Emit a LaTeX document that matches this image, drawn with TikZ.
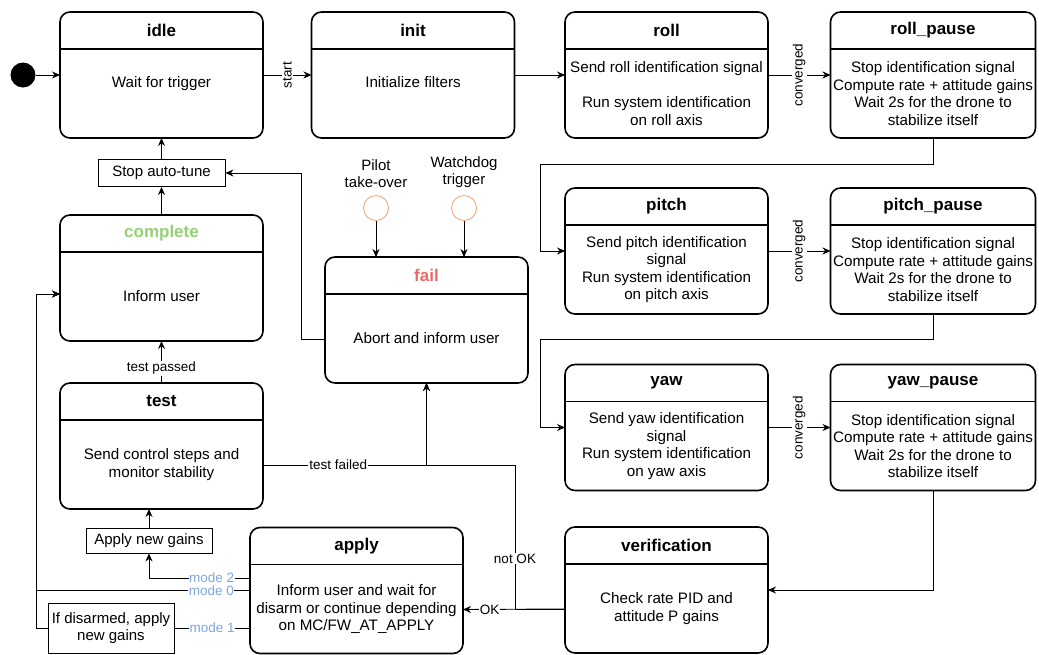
\documentclass[tikz,border=0pt]{standalone}
\usepackage{fontspec}
\setmainfont{Liberation Sans}
\usetikzlibrary{positioning,arrows.meta}
\definecolor{eventorange}{RGB}{244,177,131}
\definecolor{modeblue}{RGB}{126,166,224}
\definecolor{completegreen}{RGB}{151,208,119}
\definecolor{failred}{RGB}{234,107,102}

\begin{document}
\begin{tikzpicture}[x=1pt, y=-1pt,
	state node/.style={draw, fill=white, line width=1.6pt, rounded corners=10pt, minimum width=203pt, minimum height=126pt, inner sep=0pt, outer sep=0pt},
	title node/.style={minimum height=37pt, inner sep=0pt, outer sep=0pt, font=\fontsize{17}{20}\selectfont\bfseries},
	body node/.style={minimum height=89pt, inner sep=0pt, outer sep=0pt, align=center, font=\fontsize{15.2}{17.6}\selectfont},
	header line/.style={line width=1.6pt},
	note node/.style={draw, fill=white, line width=0.9pt, inner sep=0pt, align=center, font=\fontsize{15}{17.6}\selectfont},
	event node/.style={circle, draw=eventorange, line width=1pt, minimum size=25pt, inner sep=0pt},
	link/.style={line width=0.9pt},
	arrow link/.style={link, -{Stealth[length=8pt, width=7pt]}},
	edge label/.style={fill=white, inner sep=1pt, font=\fontsize{13.5}{16}\selectfont},
	mode label/.style={edge label, inner sep=0.5pt, text=modeblue}]

	\useasboundingbox (0,0) rectangle (1039,654);

	\node[circle, fill=black, minimum size=25pt, inner sep=0pt] (start dot) at (23,75) {};

	\node[state node] (idle) at (161.5,75) {};
	\node[title node, below=0pt of idle.north] (idle title) {idle};
	\node[body node, below=0pt of idle title] (idle body) {Wait for trigger\\\strut};
	\draw[header line] (idle title.south -| idle.west) -- (idle title.south -| idle.east);

	\node[state node] (init) at (413,75) {};
	\node[title node, below=0pt of init.north] (init title) {init};
	\node[body node, below=0pt of init title] (init body) {Initialize filters\\\strut};
	\draw[header line] (init title.south -| init.west) -- (init title.south -| init.east);

	\node[state node] (roll) at (666.5,75) {};
	\node[title node, below=0pt of roll.north] (roll title) {roll};
	\node[body node, below=0pt of roll title] (roll body) {Send roll identification signal\\\strut\\Run system identification\\on roll axis};
	\draw[header line] (roll title.south -| roll.west) -- (roll title.south -| roll.east);

	\node[state node, minimum width=205pt] (rollp) at (933,75) {};
	\node[title node, below=0pt of rollp.north] (rollp title) {roll\_pause};
	\node[body node, below=0pt of rollp title] (rollp body) {Stop identification signal\\Compute rate + attitude gains\\Wait 2s for the drone to\\stabilize itself};
	\draw[header line] (rollp title.south -| rollp.west) -- (rollp title.south -| rollp.east);

	\node[state node] (pitch) at (666.5,251) {};
	\node[title node, below=0pt of pitch.north] (pitch title) {pitch};
	\node[body node, below=0pt of pitch title] (pitch body) {Send pitch identification\\signal\\Run system identification\\on pitch axis};
	\draw[header line] (pitch title.south -| pitch.west) -- (pitch title.south -| pitch.east);

	\node[state node, minimum width=205pt] (pitchp) at (933,251) {};
	\node[title node, below=0pt of pitchp.north] (pitchp title) {pitch\_pause};
	\node[body node, below=0pt of pitchp title] (pitchp body) {Stop identification signal\\Compute rate + attitude gains\\Wait 2s for the drone to\\stabilize itself};
	\draw[header line] (pitchp title.south -| pitchp.west) -- (pitchp title.south -| pitchp.east);

	\node[state node] (yaw) at (666.5,427.5) {};
	\node[title node, below=0pt of yaw.north] (yaw title) {yaw};
	\node[body node, below=0pt of yaw title] (yaw body) {Send yaw identification\\signal\\Run system identification\\on yaw axis};
	\draw[header line] (yaw title.south -| yaw.west) -- (yaw title.south -| yaw.east);

	\node[state node, minimum width=205pt] (yawp) at (933,427.5) {};
	\node[title node, below=0pt of yawp.north] (yawp title) {yaw\_pause};
	\node[body node, below=0pt of yawp title] (yawp body) {Stop identification signal\\Compute rate + attitude gains\\Wait 2s for the drone to\\stabilize itself};
	\draw[header line] (yawp title.south -| yawp.west) -- (yawp title.south -| yawp.east);

	\node[state node] (verif) at (666.5,590) {};
	\node[title node, below=0pt of verif.north] (verif title) {verification};
	\node[body node, below=0pt of verif title] (verif body) {Check rate PID and\\attitude P gains};
	\draw[header line] (verif title.south -| verif.west) -- (verif title.south -| verif.east);

	\node[state node, minimum width=213pt] (apply) at (356.5,590.5) {};
	\node[title node, below=0pt of apply.north] (apply title) {apply};
	\node[body node, below=0pt of apply title] (apply body) {Inform user and wait for\\disarm or continue depending\\on MC/FW\_AT\_APPLY};
	\draw[header line] (apply title.south -| apply.west) -- (apply title.south -| apply.east);

	\node[state node] (fail) at (426.5,320) {};
	\node[title node, text=failred, below=0pt of fail.north] (fail title) {fail};
	\node[body node, below=0pt of fail title] (fail body) {Abort and inform user};
	\draw[header line] (fail title.south -| fail.west) -- (fail title.south -| fail.east);

	\node[state node] (complete) at (161.5,278) {};
	\node[title node, text=completegreen, below=0pt of complete.north] (complete title) {complete};
	\node[body node, below=0pt of complete title] (complete body) {Inform user};
	\draw[header line] (complete title.south -| complete.west) -- (complete title.south -| complete.east);

	\node[state node] (test) at (161.5,446) {};
	\node[title node, below=0pt of test.north] (test title) {test};
	\node[body node, below=0pt of test title] (test body) {Send control steps and\\monitor stability};
	\draw[header line] (test title.south -| test.west) -- (test title.south -| test.east);

	\node[note node, minimum width=127pt, minimum height=27pt] (stop) at (161.5,173) {Stop auto-tune};
	\node[note node, minimum width=126pt, minimum height=25pt] (gains) at (149,540.5) {Apply new gains};
	\node[note node, minimum width=126pt, minimum height=50pt] (disarm) at (111,628) {If disarmed, apply\\new gains};

	\node[event node] (pilot) at (376,208) {};
	\node[event node] (watchdog) at (464,208) {};
	\node[align=center, inner sep=0pt, font=\fontsize{15}{17.6}\selectfont, above=7pt of pilot] (pilot text) {Pilot\\take-over};
	\node[align=center, inner sep=0pt, font=\fontsize{15}{17.6}\selectfont, above=7pt of watchdog] (watchdog text) {Watchdog\\trigger};

	\draw[arrow link] (start dot) -- (idle);
	\draw[arrow link] (idle) -- node[edge label, rotate=90] {start} (init);
	\draw[arrow link] (init) -- (roll);
	\draw[arrow link] (roll) -- node[edge label, rotate=90] {converged} (rollp);
	\draw[arrow link] (rollp.south) |- (540,164) |- (pitch.west);
	\draw[arrow link] (pitch) -- node[edge label, rotate=90] {converged} (pitchp);
	\draw[arrow link] (pitchp.south) |- (540,339) |- (yaw.west);
	\draw[arrow link] (yaw) -- node[edge label, rotate=90] {converged} (yawp);
	\draw[arrow link] (yawp.south) |- (verif.east);
	\draw[arrow link] ([yshift=-19pt]verif.west) -- node[edge label, pos=0.74] {OK} ([yshift=-19pt]apply.east);
	\draw[arrow link] ([yshift=-19pt]verif.west) -- (515,609) -- node[edge label, pos=0.35] {not OK} (515,465) -| (fail.south);
	\draw[arrow link] ([yshift=-19pt]test.east) -| node[edge label, pos=0.23] {test failed} (fail.south);
	\draw[arrow link] ([yshift=-19pt]fail.west) -- (301,339) |- (stop.east);
	\draw[arrow link] (pilot) -- (pilot |- fail.north);
	\draw[arrow link] (watchdog) -- (watchdog |- fail.north);
	\draw[arrow link] (stop) -- (idle);
	\draw[arrow link] (complete) -- (stop);
	\draw[arrow link] (test) -- node[edge label, pos=0.35] {test passed} (complete);
	\draw[arrow link] (gains) -- (gains.north |- test.south);
	\draw[arrow link] ([yshift=12.5pt]apply.west) -| node[mode label, pos=0.19] {mode 2} (gains.south);
	\draw[arrow link] (apply.west) -- node[mode label, pos=0.18] {mode 0} (36,590.5) |- ([yshift=-16pt]complete.west);
	\draw[link] ([yshift=-37.5pt]apply.west) -- node[mode label] {mode 1} (disarm);
	\draw[arrow link] (disarm.west) -- (36,628) |- ([yshift=-16pt]complete.west);
\end{tikzpicture}
\end{document}
